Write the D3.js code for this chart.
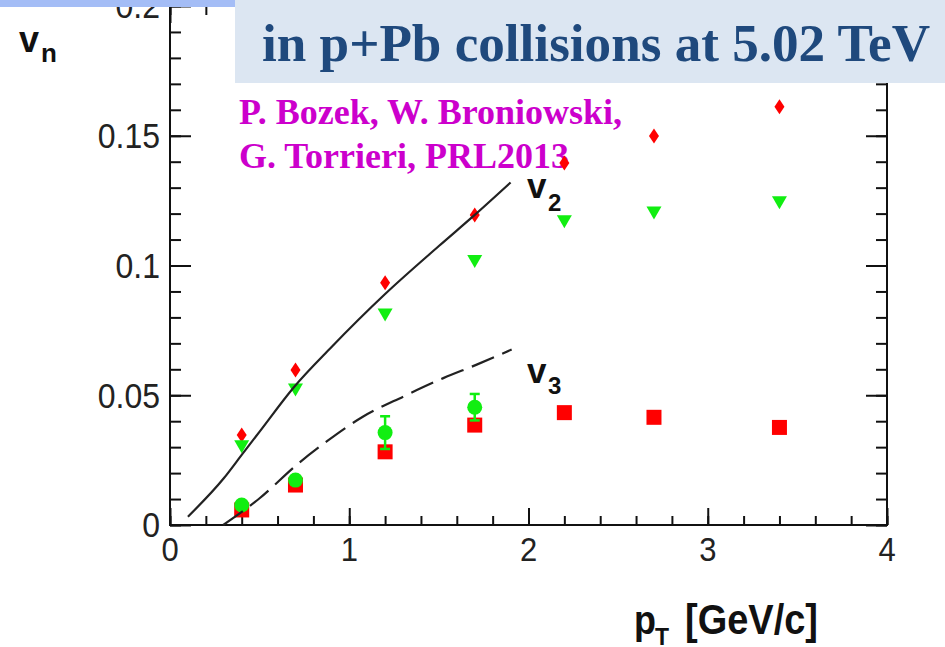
<!DOCTYPE html>
<html>
<head>
<meta charset="utf-8">
<script src="https://cdn.jsdelivr.net/npm/d3@7"></script>
<style>
  html, body { margin: 0; padding: 0; background: #fff; }
  svg { display: block; }
</style>
</head>
<body>
<svg id="chart" width="945" height="647"></svg>
<script>
// ---------- data ----------
const ptData = [0.4, 0.7, 1.2, 1.7, 2.2, 2.7, 3.4];
const v2Diamond = [0.0347, 0.0597, 0.0934, 0.1195, 0.1395, 0.1499, 0.1612];
const v2Triangle = [0.0302, 0.052, 0.0809, 0.1015, 0.1169, 0.1202, 0.1242];
const v3Square = [0.0058, 0.0154, 0.0282, 0.0385, 0.0433, 0.0415, 0.0376];
const ptCircle = [0.4, 0.7, 1.2, 1.7];
const v3Circle = [0.0077, 0.0173, 0.0356, 0.0454];
const v3CircleErr = [0.001, 0.0015, 0.0063, 0.0051];

const theoryV2Pt = [0.1, 0.3, 0.4, 0.5, 0.69, 0.9, 1.2, 1.5, 1.7, 1.9];
const theoryV2 = [0.0032, 0.018, 0.027, 0.036, 0.053, 0.0685, 0.089, 0.1075, 0.1195, 0.132];
const theoryV3Pt = [0.297, 0.5, 0.707, 0.874, 1.078, 1.302, 1.525, 1.711, 1.906];
const theoryV3 = [0, 0.0103, 0.0232, 0.0322, 0.0418, 0.0495, 0.0566, 0.0618, 0.0676];

const xTicks = [0, 1, 2, 3, 4];
const xTickLabels = ["0", "1", "2", "3", "4"];
const yTicks = [0, 0.05, 0.1, 0.15, 0.2];
const yTickLabels = ["0", "0.05", "0.1", "0.15", "0.2"];

const titleText = "in p+Pb collisions at 5.02 TeV";
const citeLines = ["P. Bozek, W. Broniowski,", "G. Torrieri, PRL2013"];

// ---------- layout ----------
const svg = d3.select("#chart");
const L = 170, R = 887, T = 6, B = 525;
const x = d3.scaleLinear().domain([0, 4]).range([L, R]);
const y = d3.scaleLinear().domain([0, 0.2]).range([B, T]);

const ink = "#111";
const xMinor = d3.range(0, 4.0001, 0.2);
const yMinor = d3.range(0, 0.2001, 0.01);

function styleAxis(g) {
  g.select(".domain").remove();
  g.selectAll(".tick line").attr("stroke", ink).attr("stroke-width", 2);
}
// bottom
svg.append("g").attr("transform", `translate(0,${B})`)
  .call(d3.axisBottom(x).tickValues(xMinor).tickSize(-9).tickFormat("")).call(styleAxis);
svg.append("g").attr("transform", `translate(0,${B})`)
  .call(d3.axisBottom(x).tickValues(xTicks).tickSize(-17).tickFormat("")).call(styleAxis);
// top
svg.append("g").attr("transform", `translate(0,${T})`)
  .call(d3.axisTop(x).tickValues(xMinor).tickSize(-9).tickFormat("")).call(styleAxis);
svg.append("g").attr("transform", `translate(0,${T})`)
  .call(d3.axisTop(x).tickValues(xTicks).tickSize(-17).tickFormat("")).call(styleAxis);
// left
svg.append("g").attr("transform", `translate(${L},0)`)
  .call(d3.axisLeft(y).tickValues(yMinor).tickSize(-11).tickFormat("")).call(styleAxis);
svg.append("g").attr("transform", `translate(${L},0)`)
  .call(d3.axisLeft(y).tickValues(yTicks).tickSize(-21).tickFormat("")).call(styleAxis);
// right
svg.append("g").attr("transform", `translate(${R},0)`)
  .call(d3.axisRight(y).tickValues(yMinor).tickSize(-11).tickFormat("")).call(styleAxis);
svg.append("g").attr("transform", `translate(${R},0)`)
  .call(d3.axisRight(y).tickValues(yTicks).tickSize(-21).tickFormat("")).call(styleAxis);

// frame
svg.append("rect").attr("x", L).attr("y", T).attr("width", R - L).attr("height", B - T)
  .attr("fill", "none").attr("stroke", ink).attr("stroke-width", 2);

// tick labels
const labFont = "'Liberation Sans', Arial, sans-serif";
yTicks.forEach((v, i) => {
  svg.append("text")
    .attr("transform", `translate(160,${y(v) + 12.4}) scale(1,1.08)`)
    .attr("text-anchor", "end")
    .attr("font-family", labFont).attr("font-size", 32).attr("fill", "#222")
    .text(yTickLabels[i]);
});
xTicks.forEach((v, i) => {
  svg.append("text")
    .attr("transform", `translate(${x(v)},${561}) scale(1,1.1)`)
    .attr("text-anchor", "middle")
    .attr("font-family", labFont).attr("font-size", 31).attr("fill", "#222")
    .text(xTickLabels[i]);
});

// axis titles
function boldText(tx, ty, size, str, sy) {
  return svg.append("text")
    .attr("transform", `translate(${tx},${ty}) scale(1,${sy || 1})`)
    .attr("font-family", labFont).attr("font-weight", "bold")
    .attr("font-size", size).attr("fill", ink).text(str);
}
boldText(634, 634, 36, "p", 1.12);
boldText(655, 645, 23, "T", 1.05);
boldText(685, 634, 38, "[GeV/c]", 1.1);
boldText(19, 52, 36, "v");
boldText(41, 62, 26, "n");

// curve labels
boldText(527, 198, 35, "v");
boldText(548, 211, 24, "2");
boldText(527, 383, 35, "v");
boldText(548, 394, 24, "3");

// citation text
const serif = "'Liberation Serif', 'Times New Roman', serif";
citeLines.forEach((s, i) => {
  svg.append("text").attr("x", 239).attr("y", 124 + i * 44)
    .attr("font-family", serif).attr("font-weight", "bold").attr("font-size", 36)
    .attr("fill", "#cc00cc").text(s);
});

// markers
const red = "#ff0000", green = "#11ee11";
const gM = svg.append("g");
ptData.forEach((p, i) => {
  gM.append("rect").attr("x", x(p) - 7.5).attr("y", y(v3Square[i]) - 7.5)
    .attr("width", 15).attr("height", 15).attr("fill", red);
});
ptCircle.forEach((p, i) => {
  const cx = x(p), hi = y(v3Circle[i] + v3CircleErr[i]), lo = y(v3Circle[i] - v3CircleErr[i]);
  gM.append("line").attr("x1", cx).attr("x2", cx).attr("y1", hi).attr("y2", lo)
    .attr("stroke", green).attr("stroke-width", 2.5);
  [hi, lo].forEach(yy => gM.append("line").attr("x1", cx - 5).attr("x2", cx + 5)
    .attr("y1", yy).attr("y2", yy).attr("stroke", green).attr("stroke-width", 2.5));
  gM.append("circle").attr("cx", cx).attr("cy", y(v3Circle[i])).attr("r", 7.5).attr("fill", green);
});
ptData.forEach((p, i) => {
  gM.append("path").attr("transform", `translate(${x(p)},${y(v2Diamond[i])})`)
    .attr("d", "M0,-7.5L5,0L0,7.5L-5,0Z").attr("fill", red);
});
ptData.forEach((p, i) => {
  gM.append("path").attr("transform", `translate(${x(p)},${y(v2Triangle[i])})`)
    .attr("d", "M-7.5,-6.5L7.5,-6.5L0,6.5Z").attr("fill", green);
});

// theory curves
const line = d3.line().x(d => x(d[0])).y(d => y(d[1])).curve(d3.curveMonotoneX);
svg.append("path").datum(theoryV2Pt.map((p, i) => [p, theoryV2[i]]))
  .attr("d", line).attr("fill", "none").attr("stroke", "#222").attr("stroke-width", 2.2);
svg.append("path").datum(theoryV3Pt.map((p, i) => [p, theoryV3[i]]))
  .attr("d", line).attr("fill", "none").attr("stroke", "#222").attr("stroke-width", 2.2)
  .attr("stroke-dasharray", "24,9");

// slide overlays
svg.append("rect").attr("x", 0).attr("y", 0).attr("width", 235).attr("height", 7).attr("fill", "#a4bdf6");
svg.append("rect").attr("x", 235).attr("y", 0).attr("width", 710).attr("height", 83).attr("fill", "#dce6f2");
svg.append("text").attr("x", 262).attr("y", 61)
  .attr("font-family", serif).attr("font-weight", "bold").attr("font-size", 53)
  .attr("fill", "#1f497d").attr("textLength", 668).attr("lengthAdjust", "spacingAndGlyphs")
  .text(titleText);
</script>
</body>
</html>
